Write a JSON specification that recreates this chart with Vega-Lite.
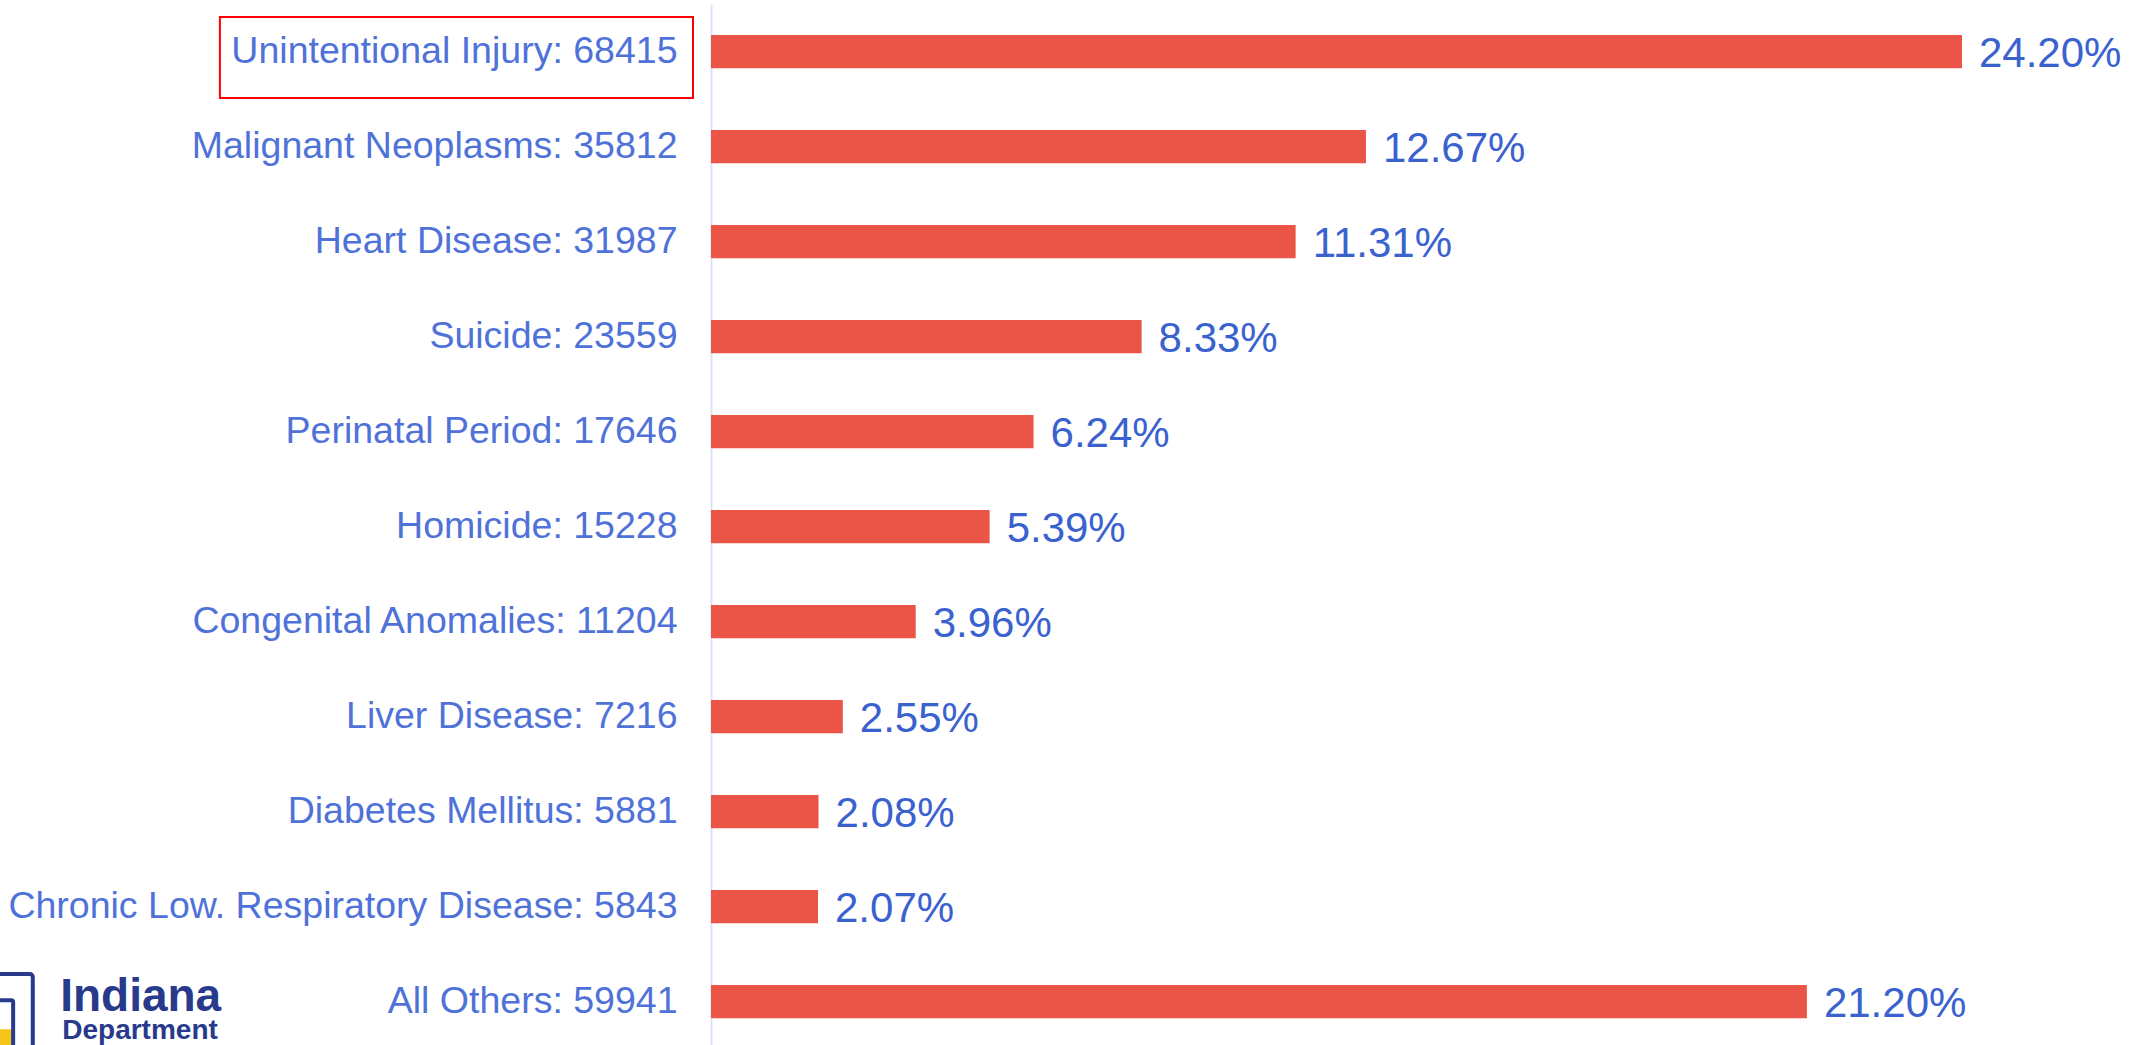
{
  "$schema": "https://vega.github.io/schema/vega-lite/v6.json",
  "autosize": {"type": "none"},
  "padding": {"left": 711, "top": 4, "right": 0, "bottom": 0},
  "width": 1435,
  "height": 1045,
  "background": "white",
  "config": {"view": {"stroke": null}, "font": "Liberation Sans"},
  "data": {
    "values": [
      {"cause": "Unintentional Injury", "deaths": 68415, "pct": 24.20, "label": "Unintentional Injury: 68415"},
      {"cause": "Malignant Neoplasms", "deaths": 35812, "pct": 12.67, "label": "Malignant Neoplasms: 35812"},
      {"cause": "Heart Disease", "deaths": 31987, "pct": 11.31, "label": "Heart Disease: 31987"},
      {"cause": "Suicide", "deaths": 23559, "pct": 8.33, "label": "Suicide: 23559"},
      {"cause": "Perinatal Period", "deaths": 17646, "pct": 6.24, "label": "Perinatal Period: 17646"},
      {"cause": "Homicide", "deaths": 15228, "pct": 5.39, "label": "Homicide: 15228"},
      {"cause": "Congenital Anomalies", "deaths": 11204, "pct": 3.96, "label": "Congenital Anomalies: 11204"},
      {"cause": "Liver Disease", "deaths": 7216, "pct": 2.55, "label": "Liver Disease: 7216"},
      {"cause": "Diabetes Mellitus", "deaths": 5881, "pct": 2.08, "label": "Diabetes Mellitus: 5881"},
      {"cause": "Chronic Low. Respiratory Disease", "deaths": 5843, "pct": 2.07, "label": "Chronic Low. Respiratory Disease: 5843"},
      {"cause": "All Others", "deaths": 59941, "pct": 21.20, "label": "All Others: 59941"}
    ]
  },
  "layer": [
    {
      "mark": {"type": "bar", "color": "#eb5548", "height": {"band": 0.35}},
      "encoding": {
        "y": {
          "field": "label", "type": "nominal", "sort": null,
          "scale": {"paddingInner": 0, "paddingOuter": 0},
          "axis": {
            "title": null, "ticks": false, "tickSize": 0, "labelPadding": 34,
            "labelFontSize": 37.5, "labelColor": "#4f72d9", "labelFont": "Liberation Sans",
            "domainColor": "#dde3f5", "domainWidth": 2, "grid": false, "labelLimit": 1000
          }
        },
        "x": {
          "field": "pct", "type": "quantitative",
          "scale": {"domain": [0, 27.76], "nice": false, "zero": true},
          "axis": null
        }
      }
    },
    {
      "transform": [{"calculate": "format(datum.pct, '.2f') + '%'", "as": "pctText"}],
      "mark": {"type": "text", "align": "left", "baseline": "middle", "dx": 17, "dy": 2, "fontSize": 42, "color": "#3a62cf"},
      "encoding": {
        "y": {"field": "label", "type": "nominal", "sort": null},
        "x": {"field": "pct", "type": "quantitative"},
        "text": {"field": "pctText"}
      }
    },
    {
      "transform": [{"filter": "datum.cause === 'Unintentional Injury'"}],
      "mark": {"type": "bar", "filled": false, "stroke": "#ff0000", "strokeWidth": 2, "height": {"band": 0.853}, "yOffset": 6},
      "encoding": {
        "y": {"field": "label", "type": "nominal", "sort": null},
        "x": {"datum": -9.5, "type": "quantitative"},
        "x2": {"datum": -0.348}
      }
    },
    {
      "transform": [{"filter": "datum.cause === 'All Others'"}],
      "mark": {"type": "text", "align": "left", "baseline": "alphabetic", "dy": 9, "fontSize": 46, "fontWeight": "bold", "color": "#283a8c"},
      "encoding": {
        "y": {"field": "label", "type": "nominal", "sort": null},
        "x": {"datum": -12.59, "type": "quantitative"},
        "text": {"value": "Indiana"}
      }
    },
    {
      "transform": [{"filter": "datum.cause === 'All Others'"}],
      "mark": {"type": "text", "align": "left", "baseline": "alphabetic", "dy": 37, "fontSize": 28, "fontWeight": "bold", "color": "#283a8c"},
      "encoding": {
        "y": {"field": "label", "type": "nominal", "sort": null},
        "x": {"datum": -12.55, "type": "quantitative"},
        "text": {"value": "Department"}
      }
    },
    {
      "transform": [{"filter": "datum.cause === 'All Others'"}],
      "mark": {"type": "bar", "filled": false, "stroke": "#283a8c", "strokeWidth": 4, "height": {"band": 1.0}, "yOffset": 20, "cornerRadius": 3},
      "encoding": {
        "y": {"field": "label", "type": "nominal", "sort": null},
        "x": {"datum": -14.5, "type": "quantitative"},
        "x2": {"datum": -13.12}
      }
    },
    {
      "transform": [{"filter": "datum.cause === 'All Others'"}],
      "mark": {"type": "bar", "color": "#f5c518", "height": {"band": 0.3}, "yOffset": 42},
      "encoding": {
        "y": {"field": "label", "type": "nominal", "sort": null},
        "x": {"datum": -14.5, "type": "quantitative"},
        "x2": {"datum": -13.53}
      }
    },
    {
      "transform": [{"filter": "datum.cause === 'All Others'"}],
      "mark": {"type": "bar", "filled": false, "stroke": "#283a8c", "strokeWidth": 4, "height": {"band": 0.7}, "yOffset": 32, "cornerRadius": 2},
      "encoding": {
        "y": {"field": "label", "type": "nominal", "sort": null},
        "x": {"datum": -14.5, "type": "quantitative"},
        "x2": {"datum": -13.5}
      }
    }
  ]
}
